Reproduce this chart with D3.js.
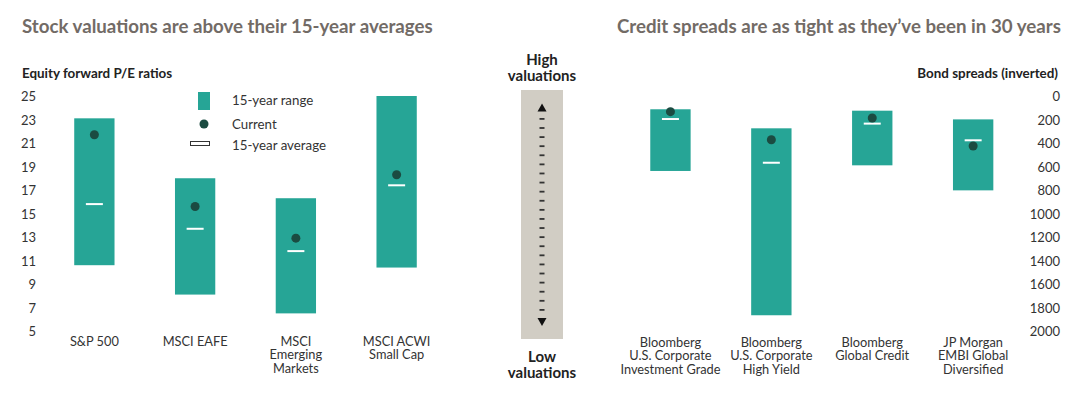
<!DOCTYPE html>
<html>
<head>
<meta charset="utf-8">
<script src="https://cdn.jsdelivr.net/npm/d3@7"></script>
<style>
  body { margin: 0; background: #fff; }
  text { font-family: Lato, "Open Sans", sans-serif; fill: #333; }
  .title { font-size: 18.7px; font-weight: 700; fill: #726b66; }
  .sub { font-size: 13.4px; font-weight: 700; fill: #222; }
  .gauge-label { font-size: 15px; font-weight: 700; fill: #222; }
  .tick text { font-size: 13px; fill: #333; }
  .cat { font-size: 12.8px; fill: #333; }
  .legend { font-size: 13.3px; fill: #333; }
</style>
</head>
<body>
<div id="chart"></div>
<script>
// values
const peCategories = [["S&P 500"], ["MSCI EAFE"], ["MSCI", "Emerging", "Markets"], ["MSCI ACWI", "Small Cap"]];
const peLow = [10.6, 8.1, 6.5, 10.4];
const peHigh = [23.1, 18.0, 16.3, 25.0];
const peCurrent = [21.7, 15.6, 12.9, 18.3];
const peAverage = [15.8, 13.7, 11.8, 17.4];
const peTicks = [5, 7, 9, 11, 13, 15, 17, 19, 21, 23, 25];

const spreadCategories = [
  ["Bloomberg", "U.S. Corporate", "Investment Grade"],
  ["Bloomberg", "U.S. Corporate", "High Yield"],
  ["Bloomberg", "Global Credit"],
  ["JP Morgan", "EMBI Global", "Diversified"]
];
const spreadTight = [113, 275, 125, 199];
const spreadWide = [638, 1866, 590, 803];
const spreadCurrent = [133, 372, 187, 426];
const spreadAverage = [196, 568, 235, 377];
const spreadTicks = [0, 200, 400, 600, 800, 1000, 1200, 1400, 1600, 1800, 2000];

const legendItems = ["15-year range", "Current", "15-year average"];
const gaugeDashes = d3.range(22);

const TEAL = "#26a596", DOT = "#1b4b41", GAUGE = "#d1cdc4";
const width = 1080, height = 397;

const svg = d3.select("#chart").append("svg")
  .attr("width", width)
  .attr("height", height);

// TITLES
svg.append("text").attr("class", "title").attr("x", 22).attr("y", 33)
  .text("Stock valuations are above their 15-year averages");
svg.append("text").attr("class", "title").attr("x", 617).attr("y", 33)
  .text("Credit spreads are as tight as they\u2019ve been in 30 years");

svg.append("text").attr("class", "sub").attr("x", 22).attr("y", 78)
  .text("Equity forward P/E ratios");
svg.append("text").attr("class", "sub").attr("x", 1058).attr("y", 78)
  .attr("text-anchor", "end")
  .text("Bond spreads (inverted)");

// generic range panel
function drawPanel(opts) {
  const x = d3.scaleBand().domain(d3.range(opts.cats.length))
    .range(opts.xRange).paddingInner(0.6).paddingOuter(0.3);
  const y = d3.scaleLinear().domain(opts.domain).range([331, 96]);

  const axis = d3.axisLeft(y).tickValues(opts.ticks).tickSize(0).tickPadding(0)
    .tickFormat(d3.format("d"));
  const ax = svg.append("g")
    .attr("transform", "translate(" + opts.axisX + ",0)")
    .call(axis);
  ax.select(".domain").remove();
  ax.selectAll(".tick text").attr("dy", "0.35em");

  const g = svg.append("g");
  const items = g.selectAll(".item").data(opts.cats.map((c, i) => i))
    .enter().append("g").attr("class", "item");

  items.append("rect")
    .attr("x", i => x(i))
    .attr("width", x.bandwidth())
    .attr("y", i => Math.min(y(opts.lo[i]), y(opts.hi[i])))
    .attr("height", i => Math.abs(y(opts.lo[i]) - y(opts.hi[i])))
    .attr("fill", TEAL);

  items.append("line")
    .attr("x1", i => x(i) + x.bandwidth() / 2 - 8.5)
    .attr("x2", i => x(i) + x.bandwidth() / 2 + 8.5)
    .attr("y1", i => y(opts.avg[i]))
    .attr("y2", i => y(opts.avg[i]))
    .attr("stroke", "#fff")
    .attr("stroke-width", 2);

  items.append("circle")
    .attr("cx", i => x(i) + x.bandwidth() / 2)
    .attr("cy", i => y(opts.cur[i]))
    .attr("r", 4.5)
    .attr("fill", DOT);

  // one text per line so wrapped labels stack cleanly
  items.each(function (i) {
    const cx = x(i) + x.bandwidth() / 2;
    d3.select(this).selectAll("text.cat").data(opts.cats[i])
      .enter().append("text")
      .attr("class", "cat")
      .attr("text-anchor", "middle")
      .attr("x", cx)
      .attr("y", (d, j) => opts.labelY + j * 13.8)
      .text(d => d);
  });
}

drawPanel({
  cats: peCategories, lo: peLow, hi: peHigh, cur: peCurrent, avg: peAverage,
  domain: [5, 25], ticks: peTicks, xRange: [44, 447], axisX: 36, labelY: 345.5
});

drawPanel({
  cats: spreadCategories, lo: spreadWide, hi: spreadTight, cur: spreadCurrent, avg: spreadAverage,
  domain: [2000, 0], ticks: spreadTicks, xRange: [620, 1023.6], axisX: 1060, labelY: 346.5
});

// LEGEND
const legend = svg.append("g").attr("class", "legend-g");
const legY = [100, 124, 145];
legend.append("rect").attr("x", 198).attr("y", 92).attr("width", 12).attr("height", 18).attr("fill", TEAL);
legend.append("circle").attr("cx", 204).attr("cy", 124).attr("r", 4.5).attr("fill", DOT);
legend.append("rect").attr("x", 190.5).attr("y", 141.5).attr("width", 19).attr("height", 4)
  .attr("fill", "#fff").attr("stroke", "#333").attr("stroke-width", 1);
legend.selectAll("text.legend").data(legendItems).enter().append("text")
  .attr("class", "legend")
  .attr("x", 232)
  .attr("y", (d, i) => legY[i])
  .attr("dy", "0.35em")
  .text(d => d);

// VALUATION GAUGE
const gauge = svg.append("g");
gauge.append("rect").attr("x", 521).attr("y", 90).attr("width", 42).attr("height", 249).attr("fill", GAUGE);
gauge.append("path").attr("d", "M542,103.5 L546.5,111.5 L537.5,111.5 Z").attr("fill", "#111");
gauge.append("path").attr("d", "M542,326 L546.5,318 L537.5,318 Z").attr("fill", "#111");
const dashY = d3.scaleLinear().domain([0, gaugeDashes.length - 1]).range([119, 310]);
gauge.selectAll(".dash").data(gaugeDashes).enter().append("rect")
  .attr("class", "dash")
  .attr("x", 539.5).attr("width", 5)
  .attr("y", d => dashY(d) - 1).attr("height", 1.8)
  .attr("fill", "#333");

const gaugeText = [["High", "valuations", 65], ["Low", "valuations", 362]];
gaugeText.forEach(t => {
  svg.append("text").attr("class", "gauge-label").attr("text-anchor", "middle")
    .attr("x", 542).attr("y", t[2]).text(t[0]);
  svg.append("text").attr("class", "gauge-label").attr("text-anchor", "middle")
    .attr("x", 542).attr("y", t[2] + 15.5).text(t[1]);
});
</script>
</body>
</html>
